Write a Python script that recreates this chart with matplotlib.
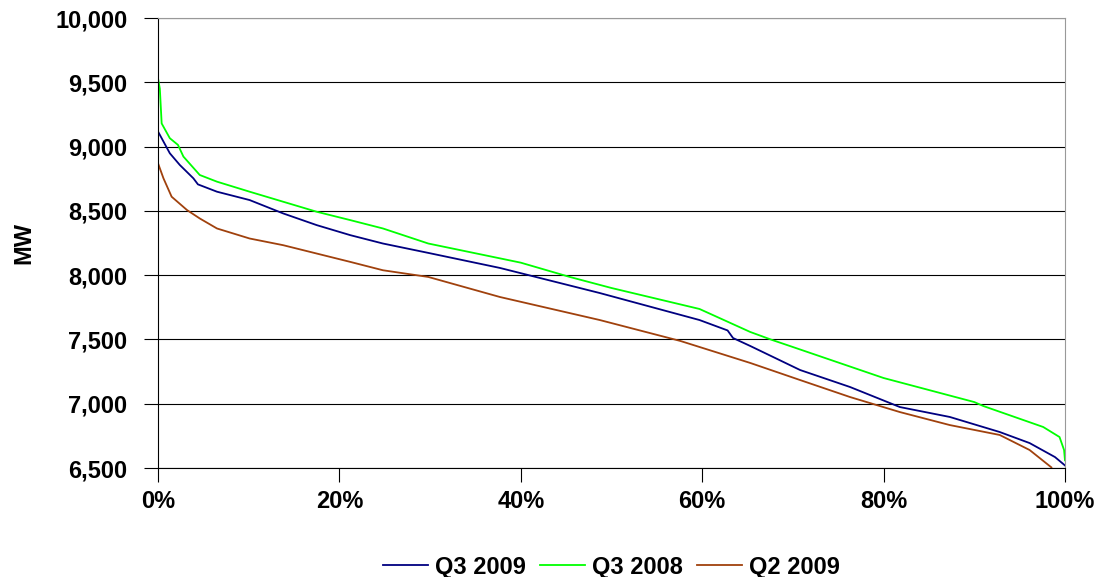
import matplotlib.pyplot as plt
from matplotlib.ticker import FuncFormatter, MultipleLocator

plt.rcParams['font.family'] = ['Liberation Sans', 'DejaVu Sans']

# duration curves: share of hours (%) vs load (MW)
pct_q3_2009 = [0, 1.3, 2.4, 3.9, 4.4, 6.5, 10.1, 13.8, 17.5, 21.2, 24.8, 29.8, 37.7,
               48.7, 59.7, 62.8, 63.4, 65.3, 70.8, 76.3, 81.8, 87.3, 92.8, 96.1, 98.9, 100]
mw_q3_2009 = [9117, 8948, 8857, 8753, 8706, 8649, 8584, 8480, 8389, 8311, 8246, 8173, 8056,
              7861, 7651, 7570, 7511, 7449, 7262, 7130, 6974, 6897, 6780, 6694, 6585, 6520]

pct_q3_2008 = [0, 0.2, 0.4, 1.3, 2.2, 2.8, 4.6, 6.5, 10.1, 13.8, 17.5, 21.2, 24.8, 29.8,
               40, 45.4, 50, 59.7, 65.3, 67.7, 70, 80, 90, 91, 97.6, 99.4, 99.9, 100]
mw_q3_2008 = [9530, 9450, 9180, 9065, 9013, 8922, 8779, 8727, 8649, 8571, 8493, 8428, 8363, 8246,
              8097, 7986, 7900, 7737, 7558, 7496, 7441, 7200, 7013, 6982, 6819, 6741, 6640, 6560]

pct_q2_2009 = [0, 0.6, 1.5, 3.2, 4.6, 6.5, 10.1, 13.8, 17.5, 21.2, 24.8, 29.8, 37.7, 48.7,
               57.6, 65.3, 70.8, 76.3, 81.8, 87.3, 92.8, 96.1, 98.5]
mw_q2_2009 = [8870, 8753, 8610, 8506, 8441, 8363, 8285, 8233, 8168, 8103, 8038, 7986, 7830, 7651,
              7488, 7317, 7184, 7052, 6935, 6834, 6757, 6640, 6505]

fig = plt.figure(figsize=(11.02, 5.77), dpi=100)
ax = fig.add_axes([0.1434, 0.1889, 0.8230, 0.7799])

ax.plot(pct_q3_2009, mw_q3_2009, color='#000080', lw=1.3, label='Q3 2009')
ax.plot(pct_q3_2008, mw_q3_2008, color='#00FF00', lw=1.3, label='Q3 2008')
ax.plot(pct_q2_2009, mw_q2_2009, color='#A0410D', lw=1.3, label='Q2 2009')

ax.set_xlim(0, 100)
ax.set_ylim(6500, 10000)
ax.xaxis.set_major_locator(MultipleLocator(20))
ax.yaxis.set_major_locator(MultipleLocator(500))
ax.xaxis.set_major_formatter(FuncFormatter(lambda v, p: '%d%%' % v))
ax.yaxis.set_major_formatter(FuncFormatter(lambda v, p: '{:,.0f}'.format(v)))
ax.grid(axis='y', color='black', lw=0.8)
ax.set_axisbelow(True)

for s in ['top', 'right']:
    ax.spines[s].set_color('#999999')
for s in ['left', 'bottom']:
    ax.spines[s].set_color('black')
ax.tick_params(direction='out', length=10, width=0.8, labelsize=17)
ax.tick_params(axis='y', pad=12)
ax.tick_params(axis='x', pad=6)
for lab in ax.get_xticklabels() + ax.get_yticklabels():
    lab.set_fontweight('bold')

ax.set_ylabel('MW', fontsize=17, fontweight='bold', labelpad=14)

ax.legend(loc='center', bbox_to_anchor=(0.5, -0.22), ncol=3, frameon=False,
          prop={'weight': 'bold', 'size': 17}, handlelength=1.9, columnspacing=0.6,
          handletextpad=0.3)

fig.savefig('out.png', dpi=100)
